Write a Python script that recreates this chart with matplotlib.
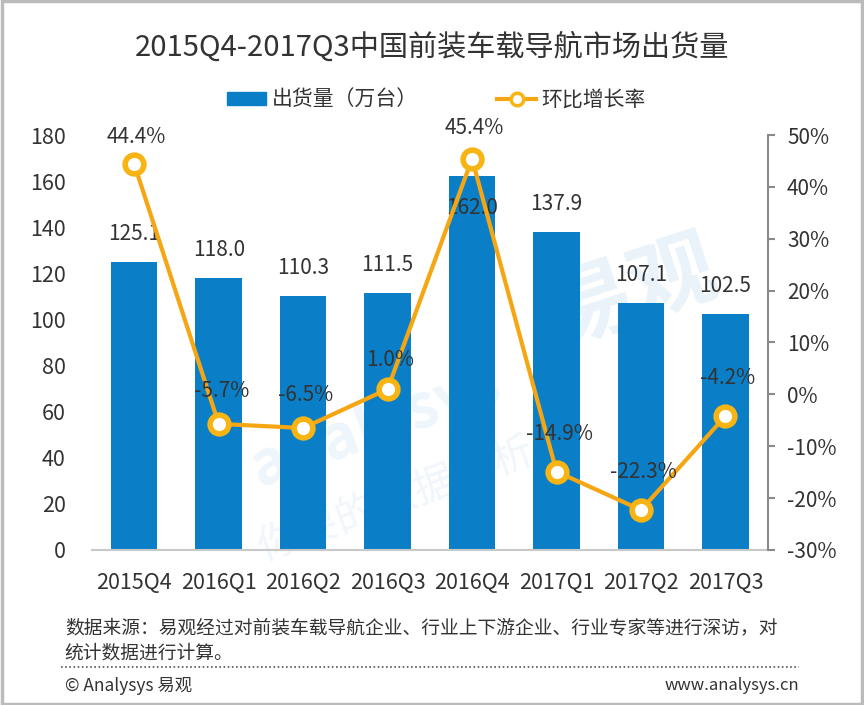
import matplotlib
matplotlib.use("Agg")
import matplotlib.pyplot as plt
from matplotlib.lines import Line2D
from matplotlib.patches import Rectangle

plt.rcParams['font.family'] = ['Noto Sans CJK SC', 'DejaVu Sans']

categories = ["2015Q4", "2016Q1", "2016Q2", "2016Q3", "2016Q4", "2017Q1", "2017Q2", "2017Q3"]
shipments = [125.1, 118.0, 110.3, 111.5, 162.0, 137.9, 107.1, 102.5]
growth = [44.4, -5.7, -6.5, 1.0, 45.4, -14.9, -22.3, -4.2]
left_ticks = [0, 20, 40, 60, 80, 100, 120, 140, 160, 180]
right_ticks = [-30, -20, -10, 0, 10, 20, 30, 40, 50]

bar_color = "#0A7FC7"
line_color = "#F6A612"
marker_edge = "#F8B412"
text_color = "#333333"

fig = plt.figure(figsize=(8.64, 7.05), dpi=100)
fig.patch.set_facecolor("white")
fig.patches.append(Rectangle((0.002, 0.002), 0.996, 0.996, transform=fig.transFigure,
                             fill=False, edgecolor="#BBBBBB", linewidth=2.5))

ax = fig.add_axes([0.1065, 0.220, 0.782, 0.5885])
x = list(range(len(categories)))

# faint watermark
ax.text(0.80, 0.62, "易观", transform=ax.transAxes, fontsize=62, color="#EAF3FA",
        rotation=18, ha="center", va="center", zorder=0.5, fontweight="bold")
ax.text(0.42, 0.30, "analysys", transform=ax.transAxes, fontsize=44, color="#EEF5FB",
        rotation=20, ha="center", va="center", zorder=0.5, fontweight="bold")
ax.text(0.45, 0.12, "你要的数据分析", transform=ax.transAxes, fontsize=30, color="#F0F6FB",
        rotation=20, ha="center", va="center", zorder=0.5)

ax.bar(x, shipments, width=0.55, color=bar_color, zorder=2)
ax.set_xlim(-0.5, len(categories) - 0.5)
ax.set_ylim(0, 180)
ax.set_yticks(left_ticks)
ax.set_yticklabels([str(t) for t in left_ticks], fontsize=15.5, color=text_color)
ax.set_xticks(x)
ax.set_xticklabels(categories, fontsize=15.5, color=text_color)
ax.tick_params(axis='y', length=0, pad=19)
ax.tick_params(axis='x', length=0, pad=16)
for s in ["top", "left", "right"]:
    ax.spines[s].set_visible(False)
ax.spines["bottom"].set_color("#C8C8C8")
ax.spines["bottom"].set_linewidth(1.5)

bar_label_dy = [12, 12, 12, 12, -13.7, 12, 12, 12]
for xi, v, dy in zip(x, shipments, bar_label_dy):
    ax.text(xi, v + dy, f"{v:.1f}", ha="center", va="center", fontsize=15, color=text_color, zorder=5)

ax2 = ax.twinx()
ax2.set_ylim(-30, 50)
ax2.set_yticks(right_ticks)
ax2.set_yticklabels([f"{t}%" for t in right_ticks], fontsize=15, color=text_color)
ax2.plot(x, growth, color=line_color, linewidth=3, zorder=3)
ax2.plot(x, growth, linestyle="none", marker="o", markersize=13.5,
         markerfacecolor="white", markeredgecolor=marker_edge, markeredgewidth=4, zorder=4)
for s in ["top", "left", "bottom"]:
    ax2.spines[s].set_visible(False)
ax2.spines["right"].set_color("#8A8A8A")
ax2.spines["right"].set_linewidth(1.5)
ax2.tick_params(axis='y', direction="out", length=5, color="#8A8A8A", pad=9, width=1.5)

pct_label_dy = [5.2, 6.4, 6.4, 5.6, 6.0, 7.3, 7.3, 7.3]
for xi, g, dy in zip(x, growth, pct_label_dy):
    ax2.text(xi + 0.03, g + dy, f"{g:.1f}%", ha="center", va="center", fontsize=15,
             color=text_color, zorder=6)

fig.text(0.5, 0.932, "2015Q4-2017Q3中国前装车载导航市场出货量", ha="center", va="center",
         fontsize=21, color=text_color)

handles = [Rectangle((0, 0), 1, 1, color=bar_color),
           Line2D([0], [0], color=line_color, linewidth=3, marker="o", markersize=9,
                  markerfacecolor="white", markeredgecolor=marker_edge, markeredgewidth=2.5)]
fig.legend(handles, ["出货量（万台）", "环比增长率"], loc="center", bbox_to_anchor=(0.505, 0.858),
           ncol=2, frameon=False, fontsize=15, handlelength=1.9, handleheight=0.55,
           columnspacing=3.8, labelcolor=text_color, handletextpad=0.25)

fig.text(0.075, 0.108, "数据来源：易观经过对前装车载导航企业、行业上下游企业、行业专家等进行深访，对",
         ha="left", va="center", fontsize=13.5, color=text_color)
fig.text(0.075, 0.074, "统计数据进行计算。", ha="left", va="center", fontsize=13.5, color=text_color)
fig.add_artist(Line2D([0.071, 0.925], [0.054, 0.054], transform=fig.transFigure,
                      color="#555555", linewidth=1.2, linestyle=(0, (1, 1.5))))
fig.text(0.075, 0.027, "© Analysys 易观", ha="left", va="center", fontsize=12.5, color=text_color)
fig.text(0.925, 0.027, "www.analysys.cn", ha="right", va="center", fontsize=12, color=text_color)

fig.savefig("out.png", dpi=100)
